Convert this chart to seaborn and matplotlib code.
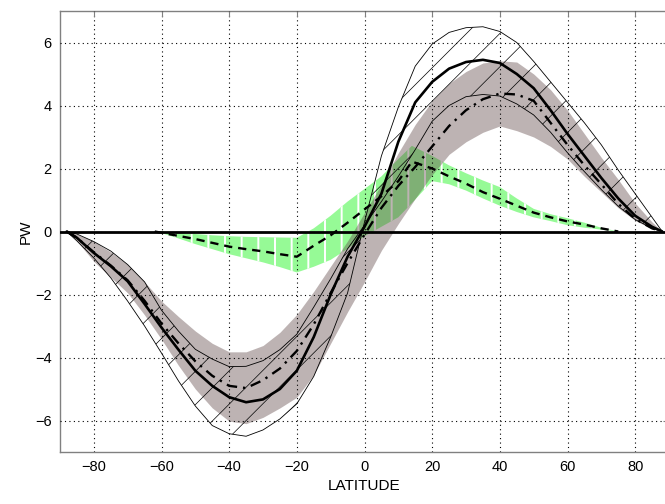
import numpy as np
import pandas as pd
import matplotlib
matplotlib.use('Agg')
import matplotlib.pyplot as plt
import seaborn as sns

# latitude grid for the zonal curves
LAT = [-88, -85, -80, -75, -70, -65, -60, -55, -50, -45, -40, -35, -30, -25, -20, -15, -10, -5,
       0, 5, 10, 15, 20, 25, 30, 35, 40, 45, 50, 55, 60, 65, 70, 75, 80, 85, 88]
# thick solid line
SOLID = [0, -0.2, -0.68, -1.1, -1.58, -2.3, -3.05, -3.75, -4.42, -4.9, -5.26, -5.42, -5.33, -5.0, -4.42, -3.35, -2.0, -0.8,
         0.15, 1.2, 2.85, 4.1, 4.75, 5.17, 5.38, 5.45, 5.35, 5.0, 4.55, 3.85, 3.1, 2.4, 1.7, 1.05, 0.5, 0.15, 0]
# dash-dot line
DASHDOT = [0, -0.2, -0.66, -1.08, -1.55, -2.2, -2.92, -3.55, -4.12, -4.58, -4.9, -4.97, -4.72, -4.35, -3.79, -2.95, -1.95, -1.0,
           -0.1, 0.75, 1.45, 2.05, 2.7, 3.35, 3.85, 4.2, 4.38, 4.35, 4.15, 3.45, 2.75, 2.1, 1.5, 0.88, 0.4, 0.1, 0]
# grey spread
GREY_HI = [0, -0.08, -0.32, -0.65, -1.05, -1.6, -2.21, -2.7, -3.16, -3.55, -3.82, -3.82, -3.62, -3.2, -2.63, -1.9, -1.1, -0.3,
           0.6, 1.5, 2.5, 3.4, 4.15, 4.7, 5.08, 5.35, 5.42, 5.38, 5.0, 4.5, 3.85, 3.1, 2.35, 1.65, 0.9, 0.3, 0]
GREY_LO = [0, -0.3, -0.95, -1.45, -1.95, -2.65, -3.42, -4.25, -5.0, -5.6, -6.02, -6.1, -5.9, -5.6, -5.26, -4.55, -3.55, -2.55,
           -1.6, -0.6, 0.25, 1.05, 1.8, 2.45, 2.85, 3.15, 3.35, 3.2, 3.0, 2.7, 2.3, 1.75, 1.25, 0.75, 0.35, 0.08, 0]
# hatched envelope (thin lines)
THIN_IN = [0, -0.08, -0.32, -0.62, -1.05, -1.6, -2.5, -3.16, -3.74, -4.05, -4.29, -4.28, -4.1, -3.75, -3.26, -2.4, -1.5, -0.55,
           0.2, 0.95, 1.75, 2.6, 3.5, 4.0, 4.28, 4.35, 4.3, 4.05, 3.7, 3.15, 2.5, 1.9, 1.33, 0.8, 0.38, 0.1, 0]
THIN_OUT = [0, -0.3, -0.84, -1.47, -2.21, -3.0, -3.86, -4.74, -5.54, -6.16, -6.42, -6.5, -6.3, -5.95, -5.47, -4.6, -3.35, -1.95,
            0.3, 2.4, 3.95, 5.25, 5.95, 6.32, 6.47, 6.5, 6.35, 6.0, 5.4, 4.75, 4.1, 3.45, 2.75, 1.95, 1.2, 0.45, 0]

# green curve and its spread
G_LAT = [-62, -60, -55, -50, -45, -40, -35, -30, -25, -20, -15, -10, -5, 0, 5, 10, 14,
         20, 25, 30, 35, 40, 45, 50, 55, 60, 65, 70, 75]
G_MID = [0, -0.04, -0.14, -0.24, -0.36, -0.48, -0.56, -0.63, -0.72, -0.8, -0.45, -0.12, 0.28, 0.7, 1.12, 1.6, 2.22,
         2.0, 1.75, 1.52, 1.25, 1.04, 0.82, 0.6, 0.45, 0.32, 0.22, 0.1, 0]
G_HI = [0, 0, -0.05, -0.08, -0.12, -0.15, -0.17, -0.18, -0.19, -0.2, 0.1, 0.5, 0.95, 1.35, 1.75, 2.3, 2.72,
        2.4, 2.1, 1.85, 1.62, 1.41, 1.05, 0.72, 0.55, 0.42, 0.28, 0.12, 0]
G_LO = [0, -0.05, -0.22, -0.4, -0.56, -0.72, -0.85, -0.98, -1.13, -1.3, -1.12, -0.9, -0.55, -0.15, 0.15, 0.45, 0.9,
        1.6, 1.5, 1.3, 1.05, 0.82, 0.62, 0.45, 0.33, 0.2, 0.12, 0.06, 0]

XTICKS = [-80, -60, -40, -20, 0, 20, 40, 60, 80]
YTICKS = [-6, -4, -2, 0, 2, 4, 6]

sns.set_style('white')
plt.rcParams['font.family'] = ['Liberation Sans', 'DejaVu Sans']
plt.rcParams['text.color'] = 'black'
plt.rcParams['axes.labelcolor'] = 'black'

df = pd.DataFrame({'lat': LAT, 'solid': SOLID, 'dashdot': DASHDOT})
gdf = pd.DataFrame({'lat': G_LAT, 'mid': G_MID})

fig = plt.figure(figsize=(6.65, 5.04), dpi=100)
ax = fig.add_axes([60/665, 52/504, 609/665, 441/504])

# green band with white vertical hatching
g = ax.fill_between(G_LAT, G_LO, G_HI, facecolor='#96FA96', edgecolor='white',
                    linewidth=0, hatch='|', zorder=1)
if hasattr(g, 'set_hatch_linewidth'):
    g.set_hatch_linewidth(1.4)

# grey band, semi transparent on top of the green
ax.fill_between(LAT, GREY_LO, GREY_HI, facecolor='#604848', alpha=0.41,
                linewidth=0, zorder=2)

# hatched envelope between the thin lines
h = ax.fill_between(LAT, THIN_IN, THIN_OUT, facecolor='none', edgecolor='black',
                    linewidth=0, hatch='/', zorder=3)
if hasattr(h, 'set_hatch_linewidth'):
    h.set_hatch_linewidth(0.5)
sns.lineplot(x=LAT, y=THIN_IN, ax=ax, color='black', lw=0.6, zorder=3)
sns.lineplot(x=LAT, y=THIN_OUT, ax=ax, color='black', lw=0.6, zorder=3)

ax.axhline(0, color='black', lw=2, zorder=4)

sns.lineplot(data=df, x='lat', y='solid', ax=ax, color='black', lw=1.9, zorder=5)
sns.lineplot(data=df, x='lat', y='dashdot', ax=ax, color='black', lw=1.7,
             linestyle=(0, (4.5, 2.5, 1, 2.5)), zorder=5)
sns.lineplot(data=gdf, x='lat', y='mid', ax=ax, color='black', lw=1.7,
             linestyle=(0, (3.5, 2.5)), zorder=5)

ax.set_xlim(-90, 90)
ax.set_ylim(-7, 7)
ax.set_xticks(XTICKS)
ax.set_yticks(YTICKS)
# grid sits over the shaded bands, as in the original
ax.set_axisbelow(False)
ax.grid(True, color='black', linestyle=(0, (1, 3)), lw=0.8)
ax.tick_params(direction='in', length=4, color='#808080', labelcolor='black',
               labelsize=10.5, top=True, right=True, pad=6)
for sp in ax.spines.values():
    sp.set_edgecolor('#808080')
    sp.set_linewidth(1)
ax.set_xlabel('LATITUDE', fontsize=11, labelpad=3)
ax.set_ylabel('PW', fontsize=11, labelpad=2)

fig.savefig('out.png', dpi=100, facecolor='white')
